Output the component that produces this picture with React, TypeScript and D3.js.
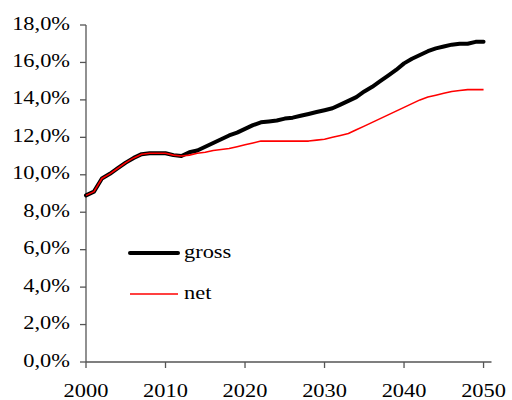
import React, { useEffect, useRef } from 'react';
import * as d3 from 'd3';

// years 2000..2050
const years = d3.range(2000, 2051);

const gross = [
  8.9, 9.1, 9.8, 10.05, 10.35, 10.65, 10.9, 11.1, 11.15, 11.15,
  11.15, 11.05, 11.0, 11.2, 11.3, 11.5, 11.7, 11.9, 12.1, 12.25,
  12.45, 12.65, 12.8, 12.85, 12.9, 13.0, 13.05, 13.15, 13.25, 13.35,
  13.45, 13.55, 13.75, 13.95, 14.15, 14.45, 14.7, 15.0, 15.3, 15.6,
  15.95, 16.2, 16.4, 16.6, 16.75, 16.85, 16.95, 17.0, 17.0, 17.1,
  17.1,
];

const net = [
  8.9, 9.1, 9.8, 10.05, 10.35, 10.65, 10.9, 11.1, 11.15, 11.15,
  11.15, 11.05, 11.0, 11.05, 11.15, 11.2, 11.3, 11.35, 11.4, 11.5,
  11.6, 11.7, 11.8, 11.8, 11.8, 11.8, 11.8, 11.8, 11.8, 11.85,
  11.9, 12.0, 12.1, 12.2, 12.4, 12.6, 12.8, 13.0, 13.2, 13.4,
  13.6, 13.8, 14.0, 14.15, 14.25, 14.35, 14.45, 14.5, 14.55, 14.55,
  14.55,
];

const yTicks = [0, 2, 4, 6, 8, 10, 12, 14, 16, 18];
const xTicks = [2000, 2010, 2020, 2030, 2040, 2050];
const seriesNames = ['gross', 'net'];

const App: React.FC = () => {
  const ref = useRef<SVGSVGElement>(null);

  useEffect(() => {
    if (!ref.current) return;
    const svg = d3.select(ref.current);
    svg.selectAll('*').remove();

    const font = "'Liberation Serif', 'Times New Roman', Times, serif";
    const axisColor = '#555';
    const sx = 1.18; // text is a bit stretched horizontally

    const x = d3.scaleLinear().domain([2000, 2051]).range([86, 491.5]);
    const y = d3.scaleLinear().domain([0, 18]).range([362, 25]);

    // axes
    svg.append('line')
      .attr('x1', x(2000)).attr('x2', x(2000))
      .attr('y1', y(18)).attr('y2', y(0))
      .attr('stroke', axisColor).attr('stroke-width', 1.3);
    svg.append('line')
      .attr('x1', x(2000)).attr('x2', x(2051))
      .attr('y1', y(0)).attr('y2', y(0))
      .attr('stroke', axisColor).attr('stroke-width', 1.3);

    yTicks.forEach((t) => {
      svg.append('line')
        .attr('x1', x(2000) - 6).attr('x2', x(2000))
        .attr('y1', y(t)).attr('y2', y(t))
        .attr('stroke', axisColor).attr('stroke-width', 1.3);
      svg.append('g')
        .attr('transform', `translate(70,${y(t) + 4.5}) scale(${sx},1)`)
        .append('text')
        .attr('text-anchor', 'end')
        .style('font-family', font)
        .style('font-size', '19px')
        .attr('fill', '#000')
        .text(d3.format('.1f')(t).replace('.', ',') + '%');
    });

    xTicks.forEach((t) => {
      svg.append('line')
        .attr('x1', x(t)).attr('x2', x(t))
        .attr('y1', y(0)).attr('y2', y(0) + 6)
        .attr('stroke', axisColor).attr('stroke-width', 1.3);
      svg.append('g')
        .attr('transform', `translate(${x(t)},${y(0) + 34.5}) scale(${sx},1)`)
        .append('text')
        .attr('text-anchor', 'middle')
        .style('font-family', font)
        .style('font-size', '19px')
        .attr('fill', '#000')
        .text(String(t));
    });

    const line = d3.line<number>()
      .x((_, i) => x(years[i]))
      .y((d) => y(d));

    svg.append('path')
      .datum(gross)
      .attr('fill', 'none')
      .attr('stroke', '#000')
      .attr('stroke-width', 4)
      .attr('stroke-linejoin', 'round')
      .attr('stroke-linecap', 'round')
      .attr('d', line);

    svg.append('path')
      .datum(net)
      .attr('fill', 'none')
      .attr('stroke', '#ff0000')
      .attr('stroke-width', 1.6)
      .attr('stroke-linejoin', 'round')
      .attr('d', line);

    // legend
    const legend = [
      { name: seriesNames[0], color: '#000', width: 4, y: 253 },
      { name: seriesNames[1], color: '#ff0000', width: 1.6, y: 294 },
    ];
    legend.forEach((l) => {
      svg.append('line')
        .attr('x1', 130).attr('x2', 178)
        .attr('y1', l.y).attr('y2', l.y)
        .attr('stroke', l.color).attr('stroke-width', l.width)
        .attr('stroke-linecap', l.width > 2 ? 'round' : 'butt');
      svg.append('g')
        .attr('transform', `translate(184,${l.y + 5}) scale(${sx},1)`)
        .append('text')
        .style('font-family', font)
        .style('font-size', '19px')
        .attr('fill', '#000')
        .text(l.name);
    });
  }, []);

  return (
    <svg
      ref={ref}
      width={512}
      height={400}
      style={{ position: 'absolute', left: 0, top: 0, background: '#fff' }}
    />
  );
};

export default App;
